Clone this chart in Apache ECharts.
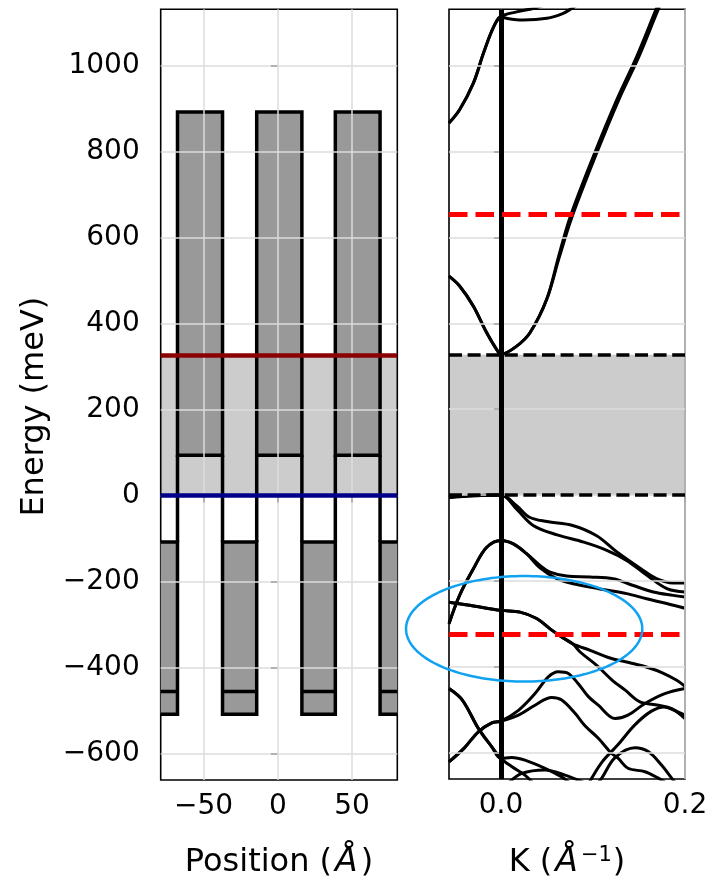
<!DOCTYPE html>
<html><head><meta charset="utf-8">
<script src="https://cdn.jsdelivr.net/npm/echarts@6/dist/echarts.min.js"></script>
<style>html,body{margin:0;padding:0;background:#fff}#c{width:721px;height:884px}</style>
</head><body><div id="c"></div>
<script>
// ---------- axis ranges & ticks ----------
const posLimits = [-78.8, 80.4];
const kLimits = [-0.0565, 0.2];
const eLimits = [-662, 1132];
const eTicks = [-600, -400, -200, 0, 200, 400, 600, 800, 1000];
const posTicks = [-50, 0, 50];
const kTicks = [0, 0.2];

// ---------- left panel: layer structure ----------
const layerEdges = [-90, -67.5, -37.2, -14.2, 16.2, 38.7, 68.8, 90];
const layerMaterial = ['B', 'A', 'B', 'A', 'B', 'A', 'B'];
const wellTop = 893, wellBottom = 94;
const barrierTop = -108, barrierBottom = -509, barrierMid = -456;
const gapBand = [0, 327];
const gapUpper = 327, gapLower = 0;

// ---------- right panel: reference levels ----------
const dashedLevels = [655, -325];
const ellipseSpec = [0.0252, -312, 0.1284, 123];

// ---------- right panel: band curves [k, E] ----------
const bandT2 = [[-0.0565,867],[-0.045,898],[-0.03,960],[-0.019,1030],[-0.008,1091],[0,1115],[0.017,1126],[0.035,1134],[0.045,1140]];
const bandT3 = [[-0.0565,867],[-0.045,898],[-0.03,960],[-0.019,1030],[-0.008,1091],[0,1115],[0.006,1111],[0.024,1107],[0.05,1111],[0.067,1122],[0.077,1134],[0.085,1145]];
const bandC1 = [[-0.0565,510],[-0.045,487],[-0.03,440],[-0.0155,378],[-0.005,340],[0,328],[0.0171,347],[0.0315,378],[0.0497,456],[0.0625,555],[0.075,647],[0.1003,789],[0.1258,921],[0.1475,1022],[0.1674,1126],[0.172,1150]];
const bandC2 = [[-0.0565,510],[-0.045,487],[-0.03,440],[-0.0155,378],[-0.005,340],[0,328],[0.0171,347],[0.0315,378],[0.0497,456],[0.0635,555],[0.077,647],[0.1025,789],[0.128,921],[0.15,1022],[0.1698,1126],[0.175,1150]];
const bandV1 = [[-0.0565,-6],[-0.03,-2],[0,0],[0.017,-25],[0.031,-52],[0.05,-62],[0.078,-71],[0.104,-95],[0.126,-133],[0.152,-172],[0.169,-195],[0.187,-205],[0.2,-205]];
const bandV2 = [[-0.0565,-6],[-0.03,-2],[0,0],[0.017,-33],[0.035,-71],[0.061,-93],[0.09,-110],[0.115,-129],[0.137,-153],[0.159,-188],[0.181,-219],[0.2,-226]];
const bandV3 = [[-0.0565,-300],[-0.045,-234],[-0.03,-172],[-0.0155,-122],[0,-106],[0.0134,-114],[0.0279,-137],[0.0424,-164],[0.0533,-180],[0.0714,-189],[0.0967,-191],[0.122,-195],[0.1438,-211],[0.1656,-226],[0.1873,-234],[0.2,-238]];
const bandV4 = [[-0.0565,-300],[-0.045,-234],[-0.03,-172],[-0.0155,-122],[0,-106],[0.0134,-114],[0.0279,-137],[0.0424,-170],[0.0606,-195],[0.0786,-207],[0.1076,-219],[0.1366,-230],[0.1583,-242],[0.1801,-253],[0.2,-264]];
const bandV5a = [[-0.0565,-250],[-0.034,-257],[0,-269],[0.0207,-273],[0.0388,-288],[0.0533,-312],[0.066,-331],[0.078,-347],[0.097,-362],[0.1185,-380],[0.14,-391],[0.158,-401],[0.176,-415],[0.191,-432],[0.2,-446]];
const bandV5b = [[-0.0565,-250],[-0.034,-257],[0,-269],[0.0207,-273],[0.0388,-288],[0.0533,-312],[0.066,-331],[0.078,-347],[0.086,-366],[0.104,-397],[0.121,-432],[0.135,-455],[0.151,-482],[0.171,-490],[0.1855,-498],[0.2,-521]];
const bandV6 = [[-0.0565,-622],[-0.04,-590],[-0.0246,-552],[-0.01,-531],[0,-527],[0.019,-502],[0.037,-463],[0.0514,-424],[0.0623,-412],[0.0732,-416],[0.084,-440],[0.095,-470],[0.1058,-490],[0.124,-521],[0.138,-513],[0.1565,-486],[0.178,-463],[0.2,-451]];
const bandV7 = [[-0.0565,-622],[-0.04,-590],[-0.0246,-552],[-0.01,-531],[0,-527],[0.019,-513],[0.037,-490],[0.0551,-472],[0.066,-478],[0.0805,-509],[0.0913,-538],[0.1058,-567],[0.12,-602],[0.1275,-614],[0.138,-637],[0.1565,-645],[0.171,-660],[0.18,-672]];
const bandV8 = [[0.105,-672],[0.1095,-660],[0.124,-612],[0.1457,-589],[0.16,-598],[0.1747,-630],[0.1855,-660],[0.19,-672]];
const bandV9 = [[0.095,-675],[0.0986,-660],[0.11,-622],[0.1268,-583],[0.145,-537],[0.1627,-505],[0.1775,-494],[0.1884,-502],[0.2,-513]];
const bandV10 = [[-0.0565,-451],[-0.042,-478],[-0.0246,-544],[-0.01,-587],[0,-614],[0.0116,-612],[0.026,-618],[0.0478,-637],[0.066,-657],[0.075,-672]];
const bandV11 = [[-0.0565,-451],[-0.042,-478],[-0.0246,-544],[-0.01,-587],[0,-614],[0.0116,-633],[0.026,-653],[0.035,-672]];
const bandV12 = [[0.008,-672],[0.0225,-649],[0.0478,-641],[0.0696,-653],[0.09,-670]];

const bandCurves = [bandT2, bandT3, bandC1, bandC2, bandV1, bandV2, bandV3, bandV4, bandV5a, bandV5b, bandV6, bandV7, bandV8, bandV9, bandV10, bandV11, bandV12];

// ---------- chart ----------
const FONT = 'DejaVu Sans';
const fmtE = v => (v < 0 ? '\u2212' + Math.abs(v) : String(v));
const tickStyle = { show: true, length: 7, lineStyle: { color: '#000', width: 1.6 } };
const labelBase = { fontSize: 28, fontFamily: FONT, color: '#000' };
const nameStyle = {
  fontSize: 32, fontFamily: FONT, color: '#000',
  rich: {
    i: { fontSize: 33, fontFamily: FONT, fontStyle: 'italic', color: '#000', padding: [0, 3, 0, 3] },
    s: { fontSize: 21, fontFamily: FONT, color: '#000', verticalAlign: 'top', padding: [0, 1, 14, 0] }
  }
};

const grids = [
  { left: 160.7, top: 9.3, width: 236.6, height: 771.4, show: true, borderColor: '#000', borderWidth: 1.6, backgroundColor: 'transparent' },
  { left: 449, top: 9.3, width: 236, height: 771.4, show: true, borderColor: '#000', borderWidth: 1.6, backgroundColor: 'transparent' }
];

const xAxes = [
  { gridIndex: 0, type: 'value', min: posLimits[0], max: posLimits[1],
    axisLine: { show: false }, splitLine: { show: false },
    axisTick: Object.assign({ customValues: posTicks }, tickStyle),
    axisLabel: Object.assign({ customValues: posTicks, formatter: fmtE, margin: 13 }, labelBase),
    name: 'Position ({i|Å})', nameLocation: 'middle', nameGap: 66, nameTextStyle: nameStyle },
  { gridIndex: 1, type: 'value', min: kLimits[0], max: kLimits[1],
    axisLine: { show: false }, splitLine: { show: false },
    axisTick: Object.assign({ customValues: kTicks }, tickStyle),
    axisLabel: Object.assign({ customValues: kTicks, formatter: v => v.toFixed(1), margin: 13 }, labelBase),
    name: 'K ({i|Å}{s|\u22121})', nameLocation: 'middle', nameGap: 66, nameTextStyle: nameStyle }
];

const yAxes = [
  { gridIndex: 0, type: 'value', min: eLimits[0], max: eLimits[1],
    axisLine: { show: false }, splitLine: { show: false },
    axisTick: Object.assign({ customValues: eTicks }, tickStyle),
    axisLabel: Object.assign({ customValues: eTicks, formatter: fmtE, margin: 21 }, labelBase),
    name: 'Energy (meV)', nameLocation: 'middle', nameGap: 110,
    nameTextStyle: Object.assign({}, nameStyle, { padding: [0, 24, 0, 0] }) },
  { gridIndex: 1, type: 'value', min: eLimits[0], max: eLimits[1],
    axisLine: { show: false }, splitLine: { show: false },
    axisTick: Object.assign({ customValues: eTicks }, tickStyle),
    axisLabel: { show: false } }
];

function gridLineSeries(gi, xTicks) {
  return {
    type: 'line', xAxisIndex: gi, yAxisIndex: gi, data: [], silent: true, z: 1,
    markLine: {
      silent: true, symbol: ['none', 'none'], animation: false, label: { show: false },
      lineStyle: { color: '#dcdcdc', width: 1.5, type: 'solid' },
      data: xTicks.map(v => ({ xAxis: v })).concat(eTicks.map(v => ({ yAxis: v })))
    }
  };
}

const layerRows = layerMaterial.map((m, i) => [layerEdges[i], layerEdges[i + 1], m === 'A' ? 1 : 0]);

const series = [
  gridLineSeries(0, posTicks),
  gridLineSeries(1, kTicks),
  {
    type: 'custom', xAxisIndex: 0, yAxisIndex: 0, z: 3, clip: true, silent: true,
    data: layerRows,
    renderItem: function (params, api) {
      const x0 = api.value(0), x1 = api.value(1), isA = api.value(2);
      const cs = params.coordSys;
      const st = { fill: '#999999', stroke: '#000', lineWidth: 3.5 };
      const ln = { stroke: '#000', lineWidth: 3.5 };
      const children = [];
      if (isA) {
        const a = api.coord([x0, wellTop]), b = api.coord([x1, wellBottom]);
        children.push({ type: 'rect', shape: { x: a[0], y: a[1], width: b[0] - a[0], height: b[1] - a[1] }, style: st });
      } else {
        const a = api.coord([x0, barrierTop]), b = api.coord([x1, barrierBottom]);
        children.push({ type: 'rect', shape: { x: a[0], y: a[1], width: b[0] - a[0], height: b[1] - a[1] }, style: st });
        const m0 = api.coord([x0, barrierMid]), m1 = api.coord([x1, barrierMid]);
        children.push({ type: 'line', shape: { x1: m0[0], y1: m0[1], x2: m1[0], y2: m1[1] }, style: ln });
      }
      if (params.dataIndex < layerRows.length - 1) {
        const p = api.coord([x1, barrierTop]), q = api.coord([x1, wellBottom]);
        children.push({ type: 'line', shape: { x1: p[0], y1: p[1], x2: q[0], y2: q[1] }, style: ln });
      }
      return { type: 'group', children: children,
        clipPath: { type: 'rect', shape: { x: cs.x, y: cs.y, width: cs.width, height: cs.height } } };
    }
  },
  {
    type: 'line', xAxisIndex: 0, yAxisIndex: 0, data: [], silent: true, z: 4,
    markArea: { silent: true, animation: false, itemStyle: { color: 'rgba(0,0,0,0.2)' },
      data: [[{ yAxis: gapBand[0] }, { yAxis: gapBand[1] }]] }
  },
  {
    type: 'line', xAxisIndex: 0, yAxisIndex: 0, data: [], silent: true, z: 5,
    markLine: { silent: true, symbol: ['none', 'none'], animation: false, label: { show: false },
      data: [
        { yAxis: gapUpper, lineStyle: { color: '#8b0000', width: 4.5, type: 'solid' } },
        { yAxis: gapLower, lineStyle: { color: '#00008b', width: 4.5, type: 'solid' } }
      ] }
  },
  {
    type: 'line', xAxisIndex: 1, yAxisIndex: 1, data: [], silent: true, z: 2,
    markArea: { silent: true, animation: false, itemStyle: { color: 'rgba(0,0,0,0.2)' },
      data: [[{ yAxis: gapBand[0] }, { yAxis: gapBand[1] }]] },
    markLine: { silent: true, symbol: ['none', 'none'], animation: false, label: { show: false },
      lineStyle: { color: '#000', width: 3.5, type: [13, 5.6] },
      data: [{ yAxis: gapUpper }, { yAxis: gapLower }] }
  }
].concat(bandCurves.map(c => ({
  type: 'line', xAxisIndex: 1, yAxisIndex: 1, data: c, showSymbol: false, smooth: 0.35,
  silent: true, z: 4, clip: true, lineStyle: { color: '#000', width: 3 }
}))).concat([
  {
    type: 'line', xAxisIndex: 1, yAxisIndex: 1, data: [], silent: true, z: 5,
    markLine: { silent: true, symbol: ['none', 'none'], animation: false, label: { show: false },
      lineStyle: { color: '#000', width: 5, type: 'solid' },
      data: [{ xAxis: 0 }] }
  },
  {
    type: 'line', xAxisIndex: 1, yAxisIndex: 1, data: [], silent: true, z: 6,
    markLine: { silent: true, symbol: ['none', 'none'], animation: false, label: { show: false },
      lineStyle: { color: '#ff0000', width: 5, type: [18.5, 8] },
      data: dashedLevels.map(v => ({ yAxis: v })) }
  },
  {
    type: 'custom', xAxisIndex: 1, yAxisIndex: 1, z: 7, clip: false, silent: true,
    data: [ellipseSpec],
    renderItem: function (params, api) {
      const c = api.coord([api.value(0), api.value(1)]);
      const s = api.size([api.value(2), api.value(3)]);
      const pts = [];
      for (let i = 0; i <= 180; i++) {
        const t = i / 180 * Math.PI * 2;
        pts.push([c[0] + s[0] * Math.cos(t), c[1] + s[1] * Math.sin(t)]);
      }
      return { type: 'polyline', shape: { points: pts }, style: { stroke: '#10a2f0', lineWidth: 2.5, fill: null } };
    }
  }
]);

const chart = echarts.init(document.getElementById('c'), null, { renderer: 'canvas' });
chart.setOption({
  animation: false,
  backgroundColor: '#ffffff',
  grid: grids,
  xAxis: xAxes,
  yAxis: yAxes,
  series: series
});
</script></body></html>
